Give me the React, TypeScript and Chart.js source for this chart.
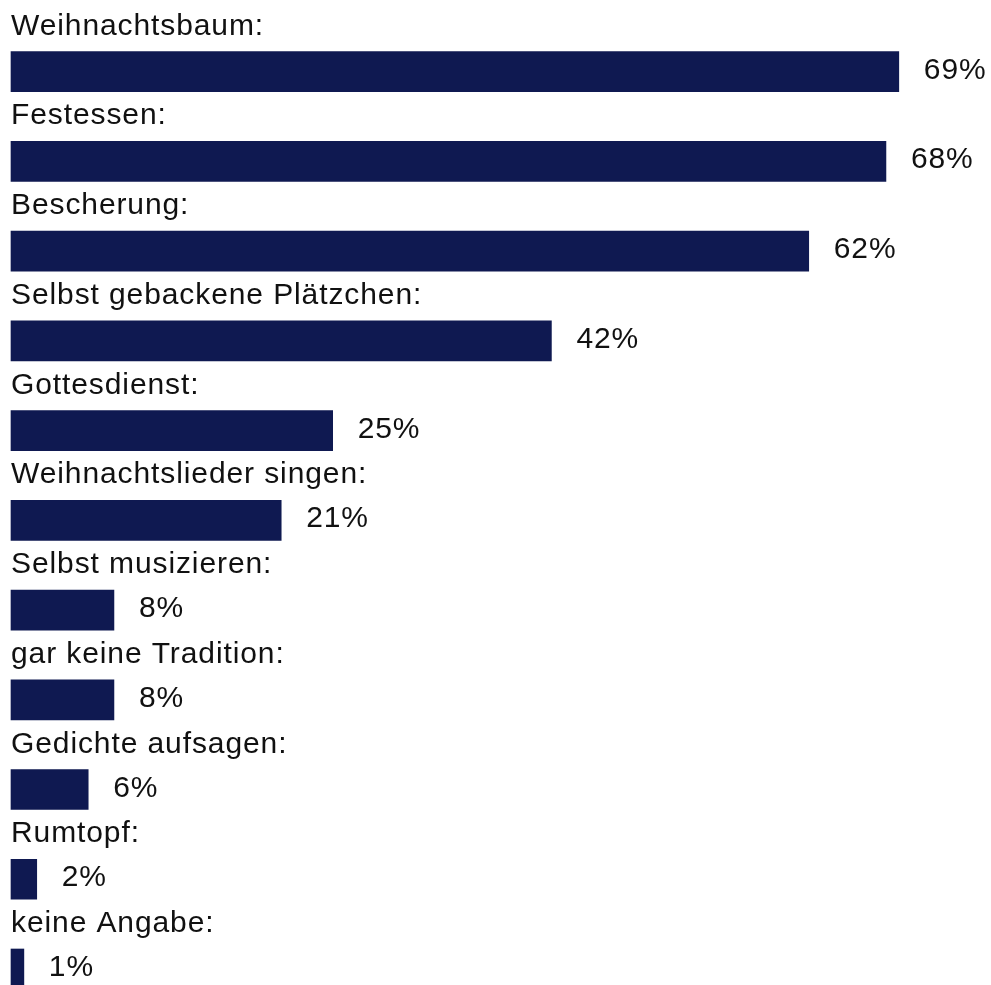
import React, { useEffect, useRef } from "react";
import { Chart, registerables } from "chart.js";

Chart.register(...registerables);

const categories: string[] = [
  "Weihnachtsbaum:",
  "Festessen:",
  "Bescherung:",
  "Selbst gebackene Plätzchen:",
  "Gottesdienst:",
  "Weihnachtslieder singen:",
  "Selbst musizieren:",
  "gar keine Tradition:",
  "Gedichte aufsagen:",
  "Rumtopf:",
  "keine Angabe:",
];

const values: number[] = [69, 68, 62, 42, 25, 21, 8, 8, 6, 2, 1];

const BAR_COLOR = "#0f1951";
const FONT = '30px "Liberation Sans", Arial, Helvetica, sans-serif';

const labelPlugin = {
  id: "labelPlugin",
  afterDatasetsDraw(chart: any) {
    const ctx = chart.ctx;
    const meta = chart.getDatasetMeta(0);
    ctx.save();
    ctx.font = FONT;
    try {
      (ctx as any).letterSpacing = "0.9px";
    } catch (e) {}
    ctx.fillStyle = "#111111";
    ctx.textBaseline = "alphabetic";
    ctx.textAlign = "left";
    meta.data.forEach((bar: any, i: number) => {
      const base = bar.base;
      ctx.fillText(categories[i], base, bar.y - 20 - 17);
      ctx.fillText(`${values[i]}%`, bar.x + 25, bar.y + 7);
    });
    ctx.restore();
  },
};

export default function App() {
  const ref = useRef<HTMLCanvasElement | null>(null);

  useEffect(() => {
    document.body.style.margin = "0";
    if (!ref.current) return;
    const chart = new Chart(ref.current, {
      type: "bar",
      data: {
        labels: categories,
        datasets: [
          {
            data: values,
            backgroundColor: BAR_COLOR,
            borderWidth: 0,
            barThickness: 40,
            clip: false as any,
          },
        ],
      },
      options: {
        indexAxis: "y",
        animation: false,
        responsive: false,
        maintainAspectRatio: false,
        layout: {
          padding: { left: 11, right: 15, top: 71.7, bottom: 16 },
        },
        plugins: {
          legend: { display: false },
          tooltip: { enabled: false },
        },
        scales: {
          x: { display: false, min: 0, max: 75 },
          y: { display: false, offset: false },
        },
      },
      plugins: [labelPlugin],
    });
    return () => chart.destroy();
  }, []);

  return (
    <div style={{ position: "absolute", left: 0, top: 0, width: 991, height: 985, background: "#fff" }}>
      <canvas ref={ref} width={991} height={985} style={{ width: 991, height: 985 }} />
    </div>
  );
}
